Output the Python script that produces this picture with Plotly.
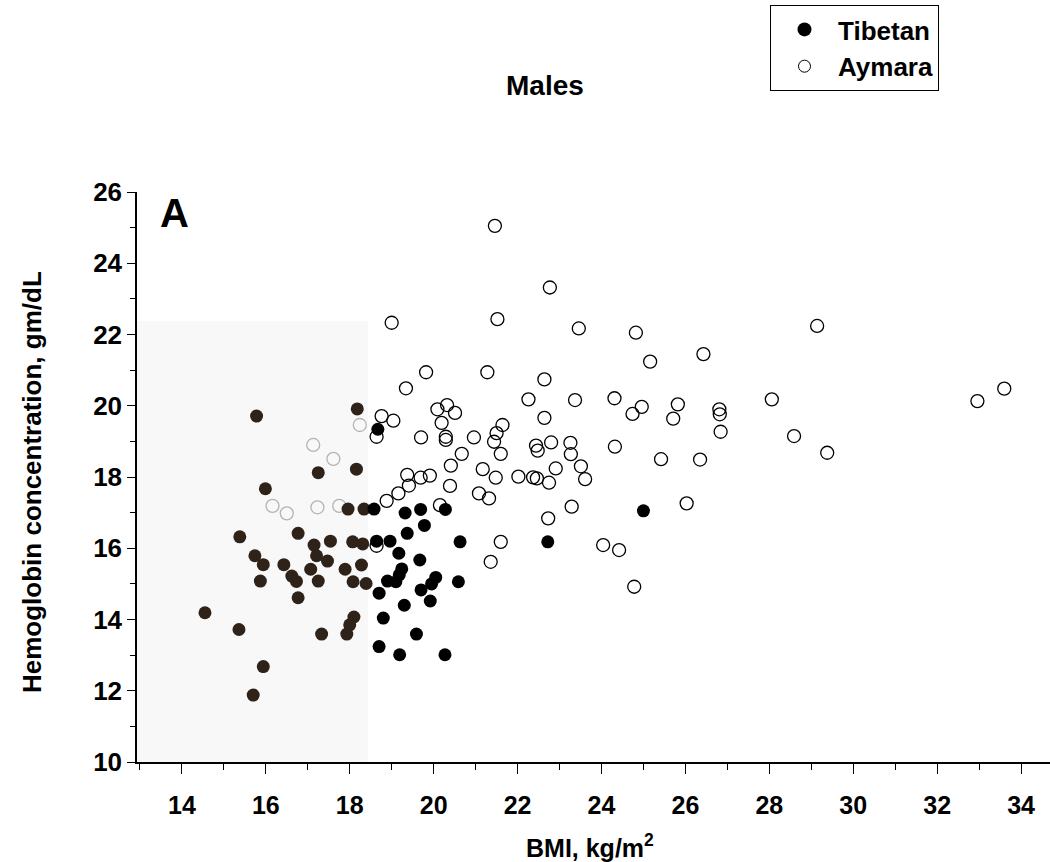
import plotly.graph_objects as go
import numpy as np

# ---- data ----
tibetan_bmi = [15.78, 18.18, 17.25, 18.16, 15.99, 17.96, 18.34, 15.38, 16.77, 17.15,
               17.54, 18.07, 18.31, 15.74, 15.94, 16.43, 17.21, 17.47, 17.07, 17.89,
               18.28, 15.87, 16.62, 16.73, 17.25, 18.08, 18.39, 16.77, 14.55, 15.36,
               17.33, 17.93, 18.10, 18.00, 15.94, 15.70,
               18.67, 18.58, 19.32, 19.69, 20.28, 19.78, 19.37, 18.64, 18.96, 20.63,
               19.17, 19.67, 19.24, 19.18, 18.90, 19.10, 20.05, 19.95, 19.70, 19.92,
               20.59, 18.70, 19.30, 18.80, 19.59, 18.70, 19.19, 20.27, 22.72, 25.00]
tibetan_hb = [19.71, 19.91, 18.12, 18.22, 17.67, 17.10, 17.10, 16.32, 16.42, 16.09,
              16.20, 16.18, 16.12, 15.79, 15.54, 15.54, 15.79, 15.64, 15.41, 15.41,
              15.53, 15.08, 15.22, 15.07, 15.08, 15.06, 15.01, 14.61, 14.19, 13.72,
              13.59, 13.59, 14.07, 13.85, 12.68, 11.88,
              19.34, 17.10, 16.99, 17.09, 17.09, 16.64, 16.42, 16.20, 16.20, 16.18,
              15.86, 15.67, 15.42, 15.25, 15.08, 15.06, 15.18, 15.00, 14.83, 14.52,
              15.06, 14.74, 14.40, 14.04, 13.59, 13.24, 13.01, 13.01, 16.18, 17.05]

aymara_bmi = [18.24, 17.13, 17.61, 16.16, 16.50, 17.23, 17.75,
              21.46, 22.77, 19.00, 21.52, 23.46, 24.82, 25.16, 19.82, 21.28, 22.64,
              19.34, 22.26, 23.37, 24.31, 24.96, 24.74, 25.82, 25.71, 26.81, 26.82,
              26.84, 22.64, 18.76, 19.04, 18.64, 20.09, 20.32, 20.51, 20.19, 19.70,
              20.29, 20.29, 20.96, 21.64, 21.50, 21.44, 21.60, 20.67, 20.41, 19.37,
              19.69, 19.91, 19.41, 19.16, 18.88, 20.39, 21.17, 21.48, 22.02, 22.37,
              22.46, 21.08, 21.32, 20.15, 21.60, 21.36, 18.64, 22.75, 22.91, 22.44,
              22.48, 22.80, 23.26, 23.27, 23.51, 23.61, 24.32, 25.42, 26.35, 23.29,
              22.73, 24.04, 24.42, 24.78, 26.03, 29.14, 26.43, 28.06, 28.59, 29.38,
              32.96, 33.60]
aymara_hb = [19.46, 18.90, 18.51, 17.19, 16.98, 17.15, 17.19,
             25.05, 23.32, 22.33, 22.43, 22.17, 22.05, 21.24, 20.94, 20.94, 20.74,
             20.49, 20.18, 20.16, 20.21, 19.97, 19.77, 20.04, 19.64, 19.90, 19.76,
             19.27, 19.66, 19.71, 19.58, 19.13, 19.90, 20.02, 19.80, 19.52, 19.11,
             19.13, 19.04, 19.11, 19.46, 19.23, 18.99, 18.65, 18.65, 18.32, 18.06,
             17.98, 18.04, 17.76, 17.54, 17.33, 17.75, 18.22, 17.98, 18.01, 17.99,
             17.96, 17.54, 17.40, 17.21, 16.18, 15.62, 16.07, 17.84, 18.24, 18.88,
             18.74, 18.97, 18.96, 18.64, 18.30, 17.94, 18.85, 18.50, 18.49, 17.17,
             16.84, 16.09, 15.95, 14.92, 17.26, 22.24, 21.45, 20.18, 19.15, 18.68,
             20.13, 20.48]

x_tick_vals = [14, 16, 18, 20, 22, 24, 26, 28, 30, 32, 34]
y_tick_vals = [10, 12, 14, 16, 18, 20, 22, 24, 26]

# ---- style constants ----
FONT = "Liberation Sans"
X_RANGE = [12.93, 34.69]
Y_RANGE = [10, 26]
SHADE_X1, SHADE_Y1 = 18.43, 22.38

tb = np.array(tibetan_bmi); th = np.array(tibetan_hb)
ab = np.array(aymara_bmi); ah = np.array(aymara_hb)
t_in = (tb < SHADE_X1) & (th < SHADE_Y1)
a_in = (ab < SHADE_X1) & (ah < SHADE_Y1)

fig = go.Figure()

fig.add_shape(type="rect", xref="x", yref="y", x0=X_RANGE[0], x1=SHADE_X1,
              y0=Y_RANGE[0], y1=SHADE_Y1, fillcolor="#f8f8f8", line_width=0,
              layer="below")

fig.add_trace(go.Scatter(
    x=aymara_bmi, y=aymara_hb, mode="markers", showlegend=False,
    marker=dict(symbol="circle-open", size=13,
                color=np.where(a_in, "#b4b4b4", "#000000").tolist(),
                line=dict(width=1.3))))
fig.add_trace(go.Scatter(
    x=tibetan_bmi, y=tibetan_hb, mode="markers", showlegend=False,
    marker=dict(symbol="circle", size=13,
                color=np.where(t_in, "#2e2219", "#000000").tolist(),
                line=dict(width=0))))

# legend-only traces
fig.add_trace(go.Scatter(x=[None], y=[None], mode="markers", name="Tibetan",
                         marker=dict(symbol="circle", size=14, color="black")))
fig.add_trace(go.Scatter(x=[None], y=[None], mode="markers", name="Aymara",
                         marker=dict(symbol="circle-open", size=12, color="black",
                                     line=dict(width=1))))

W, H = 1050, 862
L, R, T, B = 137, 0, 192, 100
pw, ph = W - L - R, H - T - B

def px(x):
    return (x - L) / pw

def py(y):
    return (H - B - y) / ph

bold = dict(family=FONT, color="black", weight="bold")

def ann(text, x, y, size, angle=0):
    return dict(text=text, x=px(x), y=py(y), xref="paper", yref="paper",
                xanchor="center", yanchor="middle", textangle=angle,
                showarrow=False, font=dict(size=size, **bold))

fig.update_layout(
    width=W, height=H, margin=dict(l=L, r=R, t=T, b=B),
    paper_bgcolor="white", plot_bgcolor="white",
    showlegend=True,
    legend=dict(x=px(770), y=py(5), xanchor="left", yanchor="top",
                bordercolor="black", borderwidth=1, bgcolor="white",
                font=dict(size=26, **bold), itemwidth=57,
                tracegroupgap=0),
    xaxis=dict(range=X_RANGE, showgrid=False, zeroline=False,
               showline=True, linecolor="black", linewidth=1.5,
               tickvals=x_tick_vals, ticks="outside", ticklen=10,
               tickcolor="black", tickwidth=1, ticklabelstandoff=10,
               minor=dict(dtick=1, tick0=13, ticks="outside", ticklen=6,
                          tickcolor="black", tickwidth=1),
               tickfont=dict(size=25, **bold)),
    yaxis=dict(range=Y_RANGE, showgrid=False, zeroline=False,
               showline=True, linecolor="black", linewidth=1.5,
               tickvals=y_tick_vals, ticks="outside", ticklen=8,
               tickcolor="black", tickwidth=1,
               minor=dict(dtick=1, tick0=10, ticks="outside", ticklen=5,
                          tickcolor="black", tickwidth=1),
               tickfont=dict(size=26, **bold)),
    annotations=[
        ann("Males", 545, 85, 28),
        ann("A", 174, 213, 40),
        ann("Hemoglobin concentration, gm/dL", 32, 482, 26, -90),
        ann("BMI, kg/m<sup>2</sup>", 590, 846, 25),
    ],
)

fig.write_html("out.html")
